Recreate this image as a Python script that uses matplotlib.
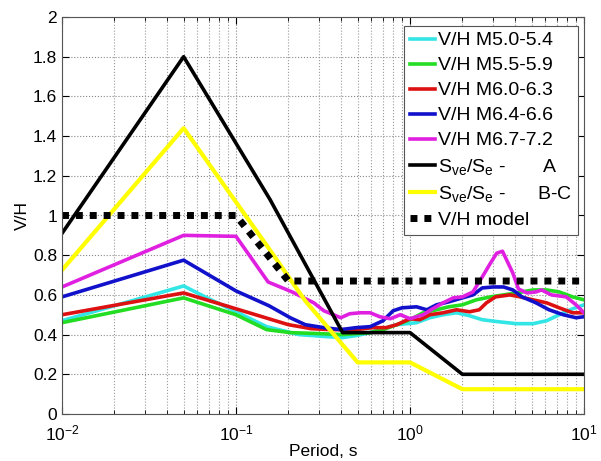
import numpy as np
import matplotlib
matplotlib.use("Agg")
import matplotlib.pyplot as plt
from matplotlib.ticker import LogLocator, NullFormatter

plt.rcParams["font.family"] = ["Liberation Sans", "DejaVu Sans"]
plt.rcParams["mathtext.fontset"] = "custom"
plt.rcParams["mathtext.rm"] = "Liberation Sans"
plt.rcParams["mathtext.it"] = "Liberation Sans"

t_m50 = [0.01, 0.05, 0.07, 0.1, 0.15, 0.23, 0.33, 0.41, 0.49, 0.59, 0.70, 0.84, 1.09,
         1.3, 1.55, 1.85, 2.2, 2.6, 3.2, 4.1, 5.1, 6.1, 7.2, 8.6, 10]
vh_m50 = [0.47, 0.645, 0.58, 0.515, 0.44, 0.40, 0.39, 0.385, 0.395, 0.41, 0.43, 0.45, 0.46,
          0.485, 0.50, 0.51, 0.495, 0.475, 0.465, 0.455, 0.455, 0.47, 0.50, 0.53, 0.55]

t_m55 = [0.01, 0.05, 0.1, 0.15, 0.205, 0.3, 0.41, 0.59, 0.70, 0.84, 1.0, 1.19, 1.42,
         1.67, 2.0, 2.4, 2.9, 3.45, 4.1, 5.1, 6.1, 7.2, 8.6, 10]
vh_m55 = [0.46, 0.585, 0.50, 0.425, 0.41, 0.405, 0.40, 0.41, 0.425, 0.45, 0.475, 0.51, 0.525,
          0.54, 0.55, 0.575, 0.59, 0.60, 0.61, 0.625, 0.625, 0.615, 0.59, 0.575]

t_m60 = [0.01, 0.05, 0.1, 0.2, 0.27, 0.35, 0.49, 0.61, 0.73, 0.84, 1.0, 1.14, 1.3, 1.55,
         1.85, 2.2, 2.5, 2.75, 3.1, 3.75, 4.3, 5.1, 6.1, 7.2, 8.6, 10]
vh_m60 = [0.50, 0.61, 0.53, 0.45, 0.43, 0.425, 0.425, 0.435, 0.435, 0.45, 0.48, 0.475, 0.50, 0.51,
          0.525, 0.515, 0.525, 0.56, 0.59, 0.60, 0.59, 0.575, 0.56, 0.535, 0.51, 0.51]

t_m64 = [0.01, 0.05, 0.1, 0.155, 0.205, 0.25, 0.32, 0.40, 0.49, 0.59, 0.70, 0.80, 0.90, 1.09,
         1.25, 1.42, 1.67, 2.0, 2.3, 2.6, 3.0, 3.45, 3.9, 4.4, 5.3, 6.3, 7.6, 9.0, 10]
vh_m64 = [0.59, 0.775, 0.62, 0.545, 0.485, 0.45, 0.435, 0.425, 0.435, 0.44, 0.47, 0.52, 0.535, 0.54,
          0.525, 0.55, 0.565, 0.585, 0.60, 0.635, 0.64, 0.64, 0.625, 0.59, 0.56, 0.525, 0.50, 0.485, 0.49]

t_m67 = [0.01, 0.05, 0.1, 0.153, 0.21, 0.28, 0.32, 0.40, 0.45, 0.52, 0.59, 0.67, 0.77, 0.88,
         1.0, 1.19, 1.35, 1.55, 1.77, 2.0, 2.3, 2.6, 2.9, 3.15, 3.4, 3.9, 4.2, 4.7, 5.3, 5.7,
         6.5, 7.9, 9.0, 10]
vh_m67 = [0.64, 0.90, 0.895, 0.665, 0.615, 0.56, 0.52, 0.485, 0.505, 0.51, 0.51, 0.49, 0.48, 0.50,
          0.48, 0.50, 0.53, 0.56, 0.585, 0.59, 0.615, 0.69, 0.76, 0.81, 0.82, 0.71, 0.63, 0.61, 0.615, 0.625,
          0.60, 0.59, 0.55, 0.51]

# code spectra ratios and the proposed model
t_a = [0.01, 0.05, 0.157, 0.41, 1.0, 2.0, 10]
vh_a = [0.91, 1.80, 1.08, 0.41, 0.41, 0.20, 0.20]

t_bc = [0.01, 0.05, 0.15, 0.25, 0.5, 1.0, 2.0, 10]
vh_bc = [0.725, 1.44, 0.85, 0.57, 0.26, 0.26, 0.125, 0.125]

t_model = [0.01, 0.1, 0.2, 10]
vh_model = [1.0, 1.0, 0.67, 0.67]

y_ticks = [0, 0.2, 0.4, 0.6, 0.8, 1.0, 1.2, 1.4, 1.6, 1.8, 2.0]
y_labels = ["0", "0.2", "0.4", "0.6", "0.8", "1", "1.2", "1.4", "1.6", "1.8", "2"]

fig = plt.figure(figsize=(6.01, 4.61), dpi=100)
ax = fig.add_axes([62 / 601, 47 / 461, 522 / 601, 397 / 461])

lw = 2.6
ax.semilogx(t_m50, vh_m50, color="#33E6E6", lw=lw, label="V/H M5.0-5.4")
ax.semilogx(t_m55, vh_m55, color="#22DD22", lw=lw, label="V/H M5.5-5.9")
ax.semilogx(t_m60, vh_m60, color="#DD1111", lw=lw, label="V/H M6.0-6.3")
ax.semilogx(t_m64, vh_m64, color="#1111CC", lw=lw, label="V/H M6.4-6.6")
ax.semilogx(t_m67, vh_m67, color="#E020E0", lw=lw, label="V/H M6.7-7.2")
ax.semilogx(t_a, vh_a, color="black", lw=2.6, label=r"S$_{\mathrm{ve}}$/S$_{\mathrm{e}}$ -       A")
ax.semilogx(t_bc, vh_bc, color="#FFFF00", lw=3.0, label=r"S$_{\mathrm{ve}}$/S$_{\mathrm{e}}$ -      B-C")
ax.semilogx(t_model, vh_model, color="black", lw=5, ls=(0, (1, 1)),
            dash_capstyle="butt", label="V/H model")

ax.set_xlim(0.01, 10)
ax.set_ylim(0, 2)
ax.set_yticks(y_ticks, y_labels)
ax.xaxis.set_major_locator(LogLocator(base=10, numticks=10))
ax.xaxis.set_minor_locator(LogLocator(base=10, subs=np.arange(2, 10), numticks=10))
ax.xaxis.set_minor_formatter(NullFormatter())

ax.grid(True, which="major", color="#888888", ls=":", lw=0.8)
ax.grid(True, which="minor", axis="x", color="#999999", ls=":", lw=0.8)
ax.tick_params(which="both", direction="in", top=True, right=True, labelsize=12.5)
ax.tick_params(which="major", length=5)
ax.tick_params(which="minor", length=3)
ax.tick_params(axis="x", pad=7)
for s in ax.spines.values():
    s.set_color("#555555")

ax.set_xlabel("Period, s", fontsize=12.5, labelpad=0)
ax.set_ylabel("V/H", fontsize=12.5, labelpad=2)

leg = ax.legend(loc="upper right", bbox_to_anchor=(578 / 601, 1 - 26 / 461),
                bbox_transform=fig.transFigure, borderaxespad=0, fontsize=14,
                handlelength=1.3, handletextpad=0.15, labelspacing=0.38,
                borderpad=0.3, fancybox=False, framealpha=1)
leg.get_frame().set_edgecolor("#555555")
leg.get_frame().set_linewidth(0.8)

fig.savefig("out.png", dpi=100)
